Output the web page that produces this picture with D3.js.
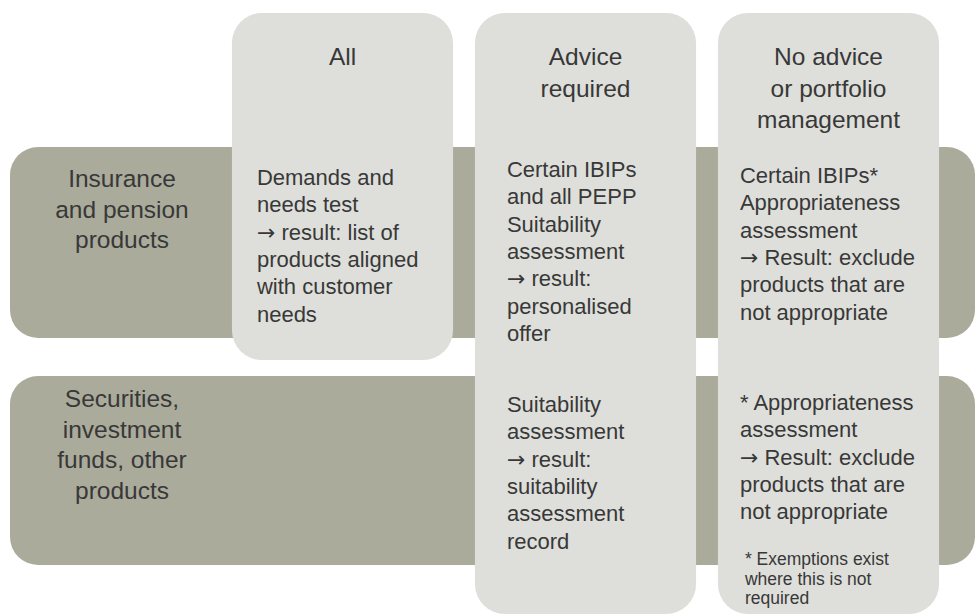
<!DOCTYPE html>
<html><head><meta charset="utf-8">
<script src="https://cdn.jsdelivr.net/npm/d3@7"></script>
<style>body{margin:0;background:#fff}svg{display:block}text{font-family:"Liberation Sans",Arial,sans-serif;fill:#383838}.arr{font-family:"DejaVu Sans",sans-serif}</style>
</head><body><svg id="c" width="975" height="614"></svg>
<script>
const columns = [["All"], ["Advice", "required"], ["No advice", "or portfolio", "management"]];
const columnIds = ["all", "advice", "noadvice"];
const rows = [["Insurance", "and pension", "products"], ["Securities,", "investment", "funds, other", "products"]];
const rowIds = ["insurance", "securities"];
const cells = [
  {row: "insurance", col: "all", lines: ["Demands and", "needs test", "\u2192 result: list of", "products aligned", "with customer", "needs"]},
  {row: "insurance", col: "advice", lines: ["Certain IBIPs", "and all PEPP", "Suitability", "assessment", "\u2192 result:", "personalised", "offer"]},
  {row: "insurance", col: "noadvice", lines: ["Certain IBIPs*", "Appropriateness", "assessment", "\u2192 Result: exclude", "products that are", "not appropriate"]},
  {row: "securities", col: "advice", lines: ["Suitability", "assessment", "\u2192 result:", "suitability", "assessment", "record"]},
  {row: "securities", col: "noadvice", lines: ["* Appropriateness", "assessment", "\u2192 Result: exclude", "products that are", "not appropriate"]}
];
const footnote = ["* Exemptions exist", "where this is not", "required"];
const columnBottoms = [360, 614, 614];

const svg = d3.select("#c");
const x = d3.scaleBand().domain(columnIds).range([221, 950]).paddingInner(0.09).paddingOuter(0.045);
const y = d3.scaleOrdinal().domain(rowIds).range([147, 376]);
const bandH = d3.scaleOrdinal().domain(rowIds).range([191, 189]);
const bandColor = "#aaab9b", colColor = "#dedfda";

// row bands
svg.selectAll("rect.band").data(rowIds).join("rect").attr("class", "band")
  .attr("x", 10).attr("y", d => y(d)).attr("width", 965).attr("height", d => bandH(d))
  .attr("rx", 28).attr("fill", bandColor);

// column boxes
svg.selectAll("rect.col").data(columnIds).join("rect").attr("class", "col")
  .attr("x", d => x(d)).attr("y", 13).attr("width", x.bandwidth())
  .attr("height", (d, i) => columnBottoms[i] - 13).attr("rx", 30).attr("fill", colColor);

// column headers
columnIds.forEach((c, i) => {
  const t = svg.append("text").attr("text-anchor", "middle").style("font-size", "24.5px");
  columns[i].forEach((l, j) => t.append("tspan").attr("x", x(c) + x.bandwidth() / 2).attr("y", 65 + j * 31.5).text(l));
});

// row labels
const rowLabelY = [187, 407];
rowIds.forEach((r, i) => {
  const t = svg.append("text").attr("text-anchor", "middle").style("font-size", "24.5px");
  rows[i].forEach((l, j) => t.append("tspan").attr("x", 122).attr("y", rowLabelY[i] + j * 30.5).text(l));
});

// cell text
const cellX = {all: 25, advice: 32, noadvice: 22};
const cellTop = {"insurance|all": 185, "insurance|advice": 177, "insurance|noadvice": 183, "securities|advice": 412, "securities|noadvice": 410};
cells.forEach(c => {
  const t = svg.append("text").style("font-size", "22px");
  c.lines.forEach((l, j) => {
    const ts = t.append("tspan").attr("x", x(c.col) + cellX[c.col]).attr("y", cellTop[c.row + "|" + c.col] + j * 27.3);
    if (l.startsWith("\u2192")) {
      ts.append("tspan").attr("class", "arr").text("\u2192");
      ts.append("tspan").text(l.slice(1));
    } else ts.text(l);
  });
});

// footnote
const ft = svg.append("text").style("font-size", "17.5px");
footnote.forEach((l, j) => ft.append("tspan").attr("x", x("noadvice") + 27).attr("y", 565 + j * 19.5).text(l));
</script></body></html>
